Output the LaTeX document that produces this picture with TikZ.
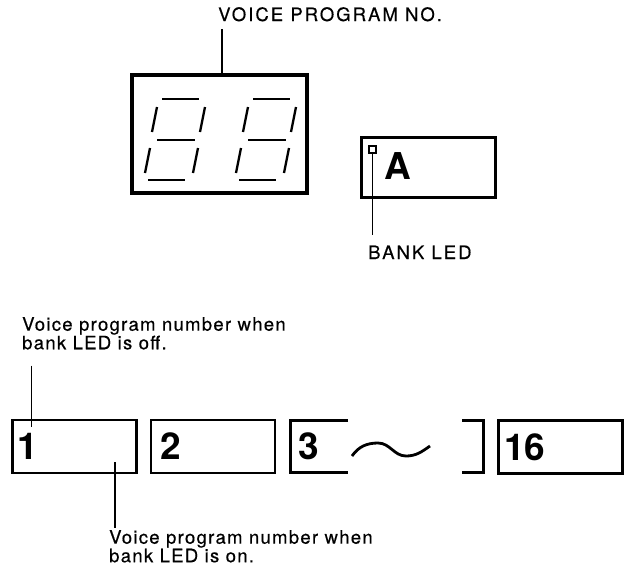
\documentclass[tikz,border=0pt]{standalone}
\usepackage{fontspec}
\setmainfont{TeX Gyre Heros}
\newfontfamily\capsfont[LetterSpace=11, FakeBold=0.4]{TeX Gyre Heros}
\newfontfamily\notefont[LetterSpace=7, FakeBold=0.4]{TeX Gyre Heros}
\usetikzlibrary{positioning}

\begin{document}
\begin{tikzpicture}[
  x=1pt, y=-1pt,
  caps/.style={font=\capsfont\fontsize{18.5}{20}\selectfont, inner sep=0pt, anchor=base west},
  note/.style={font=\notefont\fontsize{18.5}{16.5}\selectfont, inner sep=0pt, align=left, anchor=north west},
  digit/.style={font=\fontsize{37}{40}\selectfont\bfseries, inner sep=0pt, anchor=west},
  numbox/.style={draw, line width=2.8pt, minimum width=124pt, minimum height=53pt, inner sep=0pt},
  openbox/.style={line width=2.8pt},
  seg/.style={line width=2.3pt},
  leader/.style={line width=1.3pt}
]
\useasboundingbox (0,0) rectangle (629,576);

% program number display
\node[caps] (title) at (218,21) {VOICE PROGRAM NO.};
\node[draw, line width=4pt, minimum width=175pt, minimum height=118pt] (disp) at (219.5,134) {};
\foreach \dx in {0,91}{
  \begin{scope}[xshift=\dx pt]
    \draw[seg] (162,99) -- (199,99);
    \draw[seg] (157,140) -- (195,140);
    \draw[seg] (148,180) -- (185,180);
    \draw[seg] (157,107) -- (152,132);
    \draw[seg] (205,107) -- (200,132);
    \draw[seg] (150,148) -- (145,173);
    \draw[seg] (198,148) -- (193,173);
  \end{scope}
}
\coordinate (titlelead) at (222,29);
\draw[leader] (titlelead) -- (titlelead |- disp.north);

% bank display
\node[draw, line width=3pt, minimum width=134pt, minimum height=60pt] (bank) at (428.5,167) {};
\node[draw, line width=1.6pt, minimum size=7.5pt, inner sep=0pt] (led) at (372.5,149.5) {};
\node[digit] (bankA) at (384,166) {A};
\node[caps] (bankled) at (368,259) {BANK LED};
\draw[leader, shorten >=10pt] (led.south) -- (led.south |- bankled.north);

% program number row
\node[note] (offlbl) at (22,317) {Voice program number when\\bank LED is off.};
\node[numbox] (box1) at (74.5,446.5) {};
\node[numbox] (box2) at (213,446.5) {};
\node[numbox] (box16) at (560.5,447) {};
\node[digit, right=6pt of box1.west] (n1) {1};
\node[digit, right=11pt of box2.west] (n2) {2};
\node[digit, right=7pt of box16.west] (n16) {16};
\draw[openbox] (348,420.5) -| (290.5,472.5) -- (348,472.5);
\node[digit] (n3) at (298.5,446.5) {3};
\draw[openbox] (352,456) to[out=55,in=180] (378,443) to[out=0,in=180] (406,456) to[out=0,in=215] (430,446);
\draw[openbox] (462,420.5) -| (483.5,472.5) -- (462,472.5);

\coordinate (offtip) at (31.5,427);
\draw[leader, shorten <=16pt] (offtip |- offlbl.south) -- (offtip);
\node[note] (onlbl) at (109,530) {Voice program number when\\bank LED is on.};
\coordinate (ontip) at (115,462);
\draw[leader, shorten >=2pt] (ontip) -- (ontip |- onlbl.north);
\end{tikzpicture}
\end{document}
